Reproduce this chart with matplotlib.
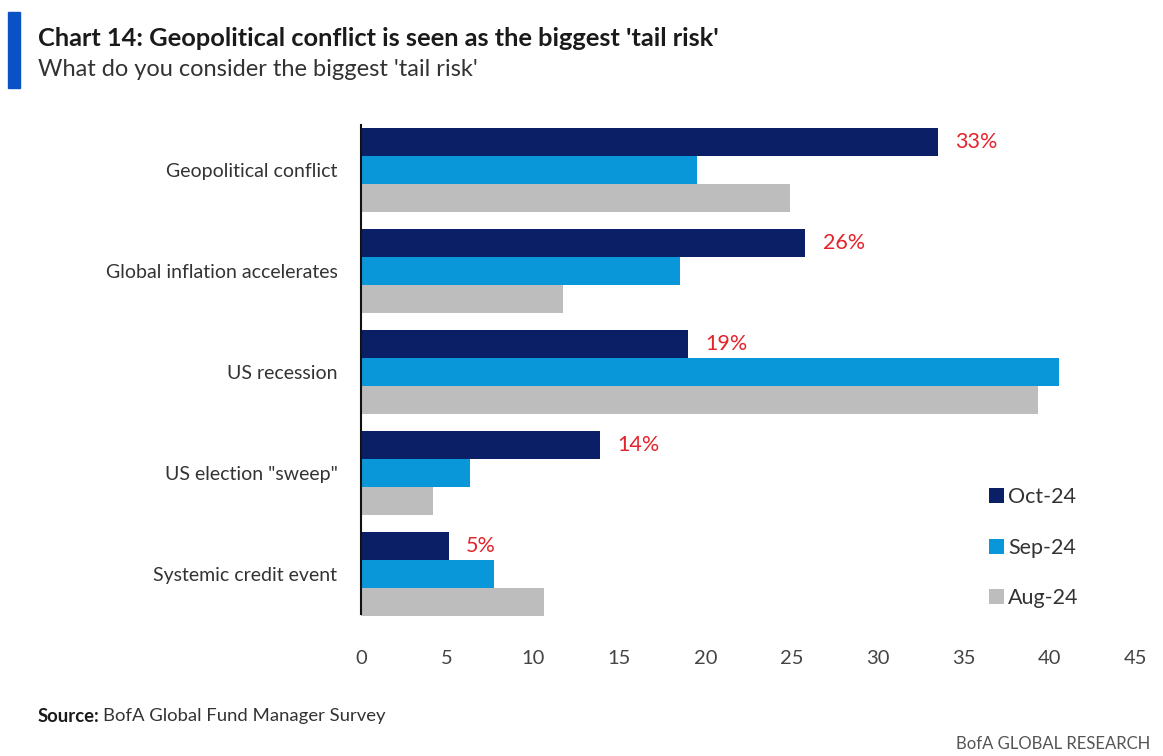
import matplotlib
matplotlib.use("Agg")
import matplotlib.pyplot as plt
import numpy as np

categories = ["Geopolitical conflict", "Global inflation accelerates", "US recession",
              "US election \"sweep\"", "Systemic credit event"]
series_names = ["Oct-24", "Sep-24", "Aug-24"]
oct24 = [33.5, 25.8, 19.0, 13.9, 5.1]
sep24 = [19.5, 18.5, 40.5, 6.3, 7.7]
aug24 = [24.9, 11.7, 39.3, 4.2, 10.6]
oct_labels = ["33%", "26%", "19%", "14%", "5%"]
xticks = [0, 5, 10, 15, 20, 25, 30, 35, 40, 45]

colors = ["#0a1f66", "#0a97d9", "#bdbdbd"]
FONT = ["Lato", "DejaVu Sans"]
plt.rcParams['font.family'] = FONT

fig = plt.figure(figsize=(11.63, 7.56), dpi=100)
ax = fig.add_axes([361/1163, 1 - 624.5/756, (1136-361)/1163, 505/756])

y = np.arange(len(categories))
h = 0.28
for i, (vals, name) in enumerate(zip([oct24, sep24, aug24], series_names)):
    ax.barh(y + (i - 1) * h, vals, height=h, color=colors[i], label=name)

for yi, v, lab in zip(y, oct24, oct_labels):
    ax.text(v + 1.0, yi - h, lab, color="#e3242b", fontsize=15.5, va="center", ha="left")

ax.set_ylim(4.5, -0.5)
ax.set_xlim(0, 45)
ax.set_yticks(y)
ax.set_yticklabels(categories, fontsize=14, color="#333333")
ax.set_xticks(xticks)
ax.set_xticklabels([str(t) for t in xticks], fontsize=14.5, color="#444444")
ax.tick_params(axis='both', length=0)
ax.tick_params(axis='y', pad=17)
ax.tick_params(axis='x', pad=18)
for s in ["top", "right", "bottom"]:
    ax.spines[s].set_visible(False)
ax.spines["left"].set_color("#111111")
ax.spines["left"].set_linewidth(1.5)
ax.spines["left"].set_bounds(-0.45, 4.4)

leg = ax.legend(loc="upper left", bbox_to_anchor=(0.785, 0.31), frameon=False,
                handlelength=0.7, handleheight=0.7, handletextpad=0.2,
                labelspacing=1.42, fontsize=15.5)
for t in leg.get_texts():
    t.set_color("#333333")

# header
fig.patches.append(plt.Rectangle((8/1163, 1 - 88/756), 12/1163, 76/756,
                                 transform=fig.transFigure, color="#0a52c4"))
fig.text(38/1163, 1 - 38/756, "Chart 14: Geopolitical conflict is seen as the biggest 'tail risk'",
         fontsize=18.3, fontweight="bold", color="#1a1a1a", va="center", ha="left")
fig.text(38/1163, 1 - 70/756, "What do you consider the biggest 'tail risk'",
         fontsize=17, color="#333333", va="center", ha="left")

src = fig.text(38/1163, 1 - 716/756, "Source:", fontsize=13.3, fontweight="bold", color="#1a1a1a",
               va="center", ha="left")
fig.canvas.draw()
bb = src.get_window_extent()
fig.text(bb.x1 / fig.bbox.width + 3/1163, 1 - 716/756, "BofA Global Fund Manager Survey",
         fontsize=13.3, color="#333333", va="center", ha="left")
fig.text(1150/1163, 1 - 744/756, "BofA GLOBAL RESEARCH", fontsize=12, color="#555555",
         va="center", ha="right")

fig.savefig("out.png", dpi=100)
